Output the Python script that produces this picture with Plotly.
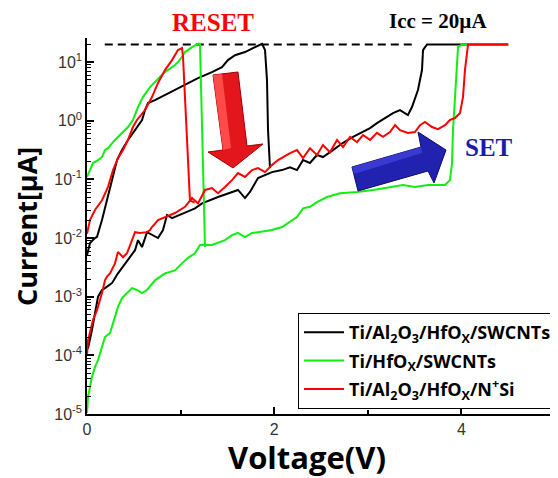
import plotly.graph_objects as go

# ---------------- data (Voltage in V, Current in µA) ----------------
black_set_v = [0.01, 0.053, 0.118, 0.160, 0.192, 0.267, 0.331, 0.406, 0.513, 0.545, 0.588, 0.641, 0.694, 0.759,
               0.812, 0.855, 0.908, 1.047, 1.154, 1.229, 1.400, 1.613, 1.688, 1.741, 1.827, 1.976, 2.083,
               2.169, 2.244, 2.308, 2.382, 2.457, 2.521, 2.628, 2.735, 2.842, 2.949, 3.024, 3.098, 3.205,
               3.269, 3.344, 3.429, 3.472, 3.536, 3.579, 3.590, 3.632, 4.5]
black_set_i = [1.3e-4, 2.7e-4, 1.0e-3, 1.3e-3, 1.4e-3, 1.7e-3, 2.5e-3, 3.7e-3, 6.2e-3, 9.2e-3, 7.0e-3, 0.0126, 0.0112, 0.0100,
               0.0137, 0.0247, 0.0219, 0.0267, 0.032, 0.039, 0.050, 0.066, 0.048, 0.061, 0.105, 0.133, 0.144,
               0.16, 0.144, 0.213, 0.19, 0.26, 0.24, 0.316, 0.42, 0.53, 0.64, 0.75, 0.91, 1.15,
               1.35, 1.52, 1.25, 1.71, 3.33, 7.3, 16.0, 20.0, 20.0]
black_reset_v = [0.0, 0.032, 0.085, 0.107, 0.160, 0.224, 0.278, 0.321, 0.374, 0.438, 0.513, 0.566, 0.588, 0.620,
                 0.652, 0.726, 0.833, 0.940, 1.047, 1.154, 1.186, 1.335, 1.442, 1.506, 1.581, 1.688, 1.795,
                 1.870, 1.902, 1.923, 1.934, 1.955]
black_reset_i = [0.0051, 0.0082, 0.0100, 0.0105, 0.0203, 0.050, 0.110, 0.213, 0.316, 0.47, 0.69, 0.91, 1.03, 1.52,
                 2.0, 2.25, 2.74, 3.33, 4.05, 4.93, 5.33, 6.75, 8.2, 10.8, 13.1, 14.8, 18.0,
                 20.5, 16.0, 4.93, 0.69, 0.156]

green_set_v = [0.0, 0.011, 0.053, 0.085, 0.118, 0.160, 0.192, 0.246, 0.278, 0.331, 0.374, 0.427, 0.481, 0.534,
               0.588, 0.641, 0.726, 0.833, 0.940, 1.015, 1.079, 1.154, 1.207, 1.335, 1.400, 1.474, 1.549,
               1.613, 1.688, 1.763, 1.827, 1.976, 2.083, 2.169, 2.244, 2.308, 2.382, 2.457, 2.564, 2.703,
               2.885, 3.056, 3.237, 3.376, 3.504, 3.643, 3.825, 3.878, 3.900, 3.910, 3.932, 3.953, 3.964,
               4.006, 4.5]
green_set_i = [1.04e-5, 1.95e-5, 4.3e-5, 6.3e-5, 8.3e-5, 1.39e-4, 2.05e-4, 2.4e-4, 3.6e-4, 6.7e-4, 9.5e-4, 1.15e-3,
               1.4e-3, 1.3e-3, 1.15e-3, 1.3e-3, 1.9e-3, 2.5e-3, 2.8e-3, 3.7e-3, 4.6e-3, 5.5e-3, 7.6e-3,
               7.6e-3, 8.2e-3, 9.2e-3, 0.0112, 0.0122, 0.0104, 0.0122, 0.0126, 0.0137, 0.0154, 0.019,
               0.0228, 0.032, 0.034, 0.041, 0.050, 0.058, 0.061, 0.066, 0.074, 0.080, 0.074, 0.080, 0.080,
               0.097, 0.19, 0.69, 2.53, 9.5, 18.0, 20.0, 20.0]
green_reset_v = [0.0, 0.032, 0.064, 0.118, 0.160, 0.192, 0.224, 0.299, 0.374, 0.438, 0.491, 0.545, 0.598, 0.673,
                 0.748, 0.833, 0.940, 0.972, 1.015, 1.047, 1.122, 1.186, 1.207, 1.261]
green_reset_i = [0.110, 0.144, 0.19, 0.213, 0.24, 0.316, 0.34, 0.47, 0.62, 0.78, 1.03, 1.71, 2.53, 3.75,
                 4.93, 6.75, 8.9, 10.0, 12.2, 14.8, 18.0, 20.5, 20.5, 0.0070]

red_set_v = [0.0, 0.011, 0.064, 0.107, 0.160, 0.192, 0.214, 0.246, 0.299, 0.331, 0.385, 0.427, 0.481, 0.513,
             0.566, 0.641, 0.673, 0.694, 0.759, 0.833, 0.940, 1.047, 1.122, 1.186, 1.261, 1.335, 1.400,
             1.474, 1.549, 1.613, 1.688, 1.763, 1.827, 1.902, 1.976, 2.041, 2.094, 2.169, 2.244, 2.308,
             2.382, 2.457, 2.521, 2.596, 2.671, 2.735, 2.810, 2.885, 2.949, 3.024, 3.098, 3.162, 3.237,
             3.291, 3.344, 3.429, 3.504, 3.558, 3.611, 3.686, 3.750, 3.825, 3.878, 3.932, 3.985, 4.017,
             4.038, 4.060, 4.071, 4.5]
red_set_i = [1.0e-4, 1.8e-4, 4.0e-4, 5.9e-4, 1.15e-3, 1.9e-3, 2.2e-3, 2.5e-3, 3.7e-3, 5.8e-3, 4.7e-3, 5.5e-3,
             9.2e-3, 0.0126, 0.0122, 0.0126, 0.0137, 0.0154, 0.0203, 0.0228, 0.0267, 0.034, 0.048, 0.039,
             0.066, 0.071, 0.058, 0.074, 0.097, 0.128, 0.110, 0.144, 0.156, 0.133, 0.175, 0.213, 0.24,
             0.28, 0.316, 0.23, 0.34, 0.26, 0.385, 0.29, 0.47, 0.356, 0.53, 0.43, 0.57, 0.47, 0.62, 0.53,
             0.64, 0.84, 0.69, 0.62, 0.64, 0.84, 0.95, 0.78, 0.72, 0.84, 1.03, 1.11, 1.35, 2.53, 7.3,
             16.0, 20.0, 20.0]
red_reset_v = [0.0, 0.032, 0.085, 0.160, 0.224, 0.278, 0.331, 0.385, 0.438, 0.491, 0.534, 0.620, 0.694, 0.759,
               0.833, 0.908, 0.972, 1.015, 1.026, 1.047, 1.068, 1.085, 1.100, 1.150]
red_reset_i = [0.0118, 0.0203, 0.030, 0.044, 0.074, 0.144, 0.23, 0.316, 0.47, 0.78, 1.03, 1.52, 2.53, 4.4,
               7.3, 10.8, 16.0, 17.3, 12.2, 2.53, 0.69, 0.12, 0.044, 0.040]

compliance_v = [0.19, 3.5]
compliance_i = [20.0, 20.0]

series_names = ["Ti/Al<sub>2</sub>O<sub>3</sub>/HfO<sub>X</sub>/SWCNTs",
                "Ti/HfO<sub>X</sub>/SWCNTs",
                "Ti/Al<sub>2</sub>O<sub>3</sub>/HfO<sub>X</sub>/N<sup>+</sup>Si"]
series_colors = ["#000000", "#11ee11", "#ff0000"]

y_tick_vals = [1e-5, 1e-4, 1e-3, 1e-2, 1e-1, 1e0, 1e1]
y_tick_text = ["10<sup>-5</sup>", "10<sup>-4</sup>", "10<sup>-3</sup>", "10<sup>-2</sup>",
               "10<sup>-1</sup>", "10<sup>0</sup>", "10<sup>1</sup>"]
y_minor_vals = [m * 10.0 ** e for e in range(-5, 2) for m in range(2, 10)]
x_tick_vals = [0, 2, 4]
x_minor_vals = [1, 3, 5]

# ---------------- figure ----------------
OFF = 8                      # page body margin added by the browser
W, H = 558 - OFF, 478 - OFF
ML, MR, MT, MB = 87 - OFF, 3, 38 - OFF, 64
PW, PH = W - ML - MR, H - MT - MB

def px(x, y):
    """page pixel -> paper coordinates (for decorations only)"""
    return (x - OFF - ML) / PW, (H - MB - (y - OFF)) / PH

fig = go.Figure()

fig.add_trace(go.Scatter(x=compliance_v, y=compliance_i, mode="lines",
                         line=dict(color="black", width=2, dash="8px,5px"),
                         showlegend=False, hoverinfo="skip"))

sets = [(black_set_v, black_set_i, black_reset_v, black_reset_i),
        (green_set_v, green_set_i, green_reset_v, green_reset_i),
        (red_set_v, red_set_i, red_reset_v, red_reset_i)]
for k, (sv, si, rv, ri) in enumerate(sets):
    fig.add_trace(go.Scatter(x=sv + [None] + rv, y=si + [None] + ri, mode="lines",
                             line=dict(color=series_colors[k], width=2),
                             name=series_names[k], legendgroup=str(k),
                             connectgaps=False))

def poly(points):
    pts = [px(x, y) for x, y in points]
    return "M " + " L ".join(f"{a:.4f},{b:.4f}" for a, b in pts) + " Z"

# red RESET arrow
red_arrow = [(213, 75), (238, 72), (247, 146), (263, 144), (233, 168), (208, 152), (223, 150)]
red_hi = [(213, 75), (222, 74), (231, 148), (223, 150)]
# blue SET arrow
blue_arrow = [(352, 167), (421, 147), (418, 132), (446, 150), (434, 183), (428, 171), (358, 191)]
blue_hi = [(352, 167), (421, 147), (422, 153), (354, 174)]

shapes = [
    dict(type="path", xref="paper", yref="paper", path=poly(red_arrow),
         fillcolor="#e3161b", line=dict(color="#9c0000", width=1), layer="above"),
    dict(type="path", xref="paper", yref="paper", path=poly(red_hi),
         fillcolor="#ff4a4a", line=dict(width=0), layer="above"),
    dict(type="path", xref="paper", yref="paper", path=poly(blue_arrow),
         fillcolor="#2222b0", line=dict(color="#0c0c66", width=1), layer="above"),
    dict(type="path", xref="paper", yref="paper", path=poly(blue_hi),
         fillcolor="#3a3ad0", line=dict(width=0), layer="above"),
]

ax, ay = px(213, 23)
ix, iy = px(438, 21)
sx, sy = px(489, 147)
vx, vy = px(307, 457)
cx, cy = px(26, 226)

def ann(text, x, y, font, angle=0):
    return dict(text=text, x=x, y=y, xref="paper", yref="paper", showarrow=False,
                xanchor="center", yanchor="middle", textangle=angle, font=font)

annotations = [
    ann("<b>RESET</b>", ax, ay, dict(family="Liberation Serif", size=25, color="#ff0000")),
    ann("<b>Icc = 20µA</b>", ix, iy, dict(family="Liberation Serif", size=21, color="#000000")),
    ann("<b>SET</b>", sx, sy, dict(family="Liberation Serif", size=25, color="#1c1ca6")),
    ann("<b>Voltage(V)</b>", vx, vy, dict(family="Open Sans", size=31, color="#000000")),
    ann("<b>Current[µA]</b>", cx, cy, dict(family="Open Sans", size=27, color="#000000"), -90),
]

lx, ly = px(298, 313)

fig.update_layout(
    template="none",
    width=W, height=H,
    margin=dict(l=ML, r=MR, t=MT, b=MB, pad=0, autoexpand=False),
    paper_bgcolor="white", plot_bgcolor="white",
    showlegend=True,
    legend=dict(x=lx, y=ly, xanchor="left", yanchor="top",
                bordercolor="black", borderwidth=1, bgcolor="white",
                font=dict(family="Open Sans", size=18, color="#000000", weight="bold"),
                tracegroupgap=2, itemwidth=40),
    shapes=shapes, annotations=annotations,
    xaxis=dict(range=[0, 5], tickmode="array", tickvals=x_tick_vals, automargin=False,
               ticks="inside", ticklen=7, tickwidth=1.5, tickcolor="black",
               minor=dict(tickmode="array", tickvals=x_minor_vals, ticks="inside", ticklen=4,
                          tickwidth=1.5, tickcolor="black", showgrid=False),
               showline=True, linecolor="black", linewidth=1.5, mirror=False,
               showgrid=False, zeroline=False,
               tickfont=dict(family="Liberation Sans", size=16, color="#333333")),
    yaxis=dict(type="log", range=[-5, 1.41], tickmode="array", tickvals=y_tick_vals, automargin=False,
               ticktext=y_tick_text, ticks="inside", ticklen=7, tickwidth=1.5, tickcolor="black",
               minor=dict(tickmode="array", tickvals=y_minor_vals, ticks="inside", ticklen=4,
                          tickwidth=1, tickcolor="black", showgrid=False),
               showline=True, linecolor="black", linewidth=1.5, mirror=False,
               showgrid=False, zeroline=False,
               tickfont=dict(family="Liberation Sans", size=16, color="#333333")),
)

fig.write_html("out.html")
